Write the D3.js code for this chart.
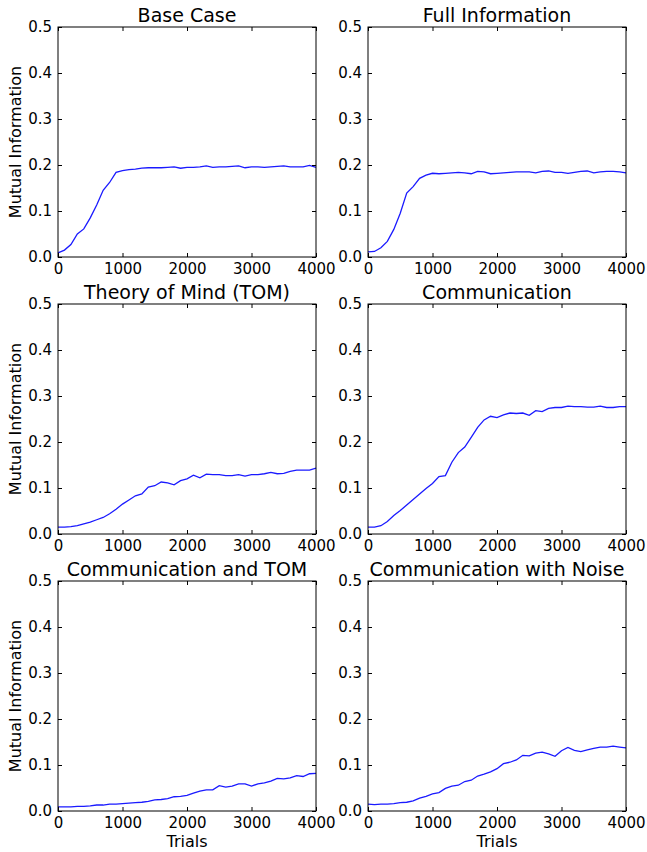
<!DOCTYPE html>
<html lang="en">
<head>
  <meta charset="UTF-8">
  <title>Mutual Information over Trials</title>
  <script src="https://d3js.org/d3.v7.min.js"></script>
  <style>
    body {
      margin: 0;
      background: #fff;
      font-family: "DejaVu Sans", sans-serif;
    }
  </style>
</head>
<body>
  <div id="chart"></div>
  <script>
    // Trials sampled every 100 steps
    const trials = d3.range(0, 4001, 100);

    const titles = [
      "Base Case", "Full Information",
      "Theory of Mind (TOM)", "Communication",
      "Communication and TOM", "Communication with Noise"
    ];

    const baseCase = [0.009,0.015,0.027,0.050,0.061,0.085,0.113,0.145,0.162,0.184,0.188,
      0.190,0.191,0.193,0.194,0.194,0.194,0.195,0.196,0.193,0.195,0.195,0.196,0.198,0.195,
      0.196,0.196,0.197,0.198,0.194,0.196,0.196,0.195,0.196,0.197,0.198,0.196,0.196,0.196,0.199,0.195];

    const fullInfo = [0.011,0.012,0.020,0.034,0.060,0.095,0.139,0.153,0.171,0.178,0.182,
      0.181,0.182,0.183,0.184,0.183,0.181,0.186,0.185,0.181,0.182,0.183,0.184,0.185,0.185,
      0.185,0.183,0.186,0.187,0.184,0.184,0.182,0.184,0.186,0.187,0.183,0.185,0.186,0.186,0.185,0.183];

    const theoryOfMind = [0.015,0.015,0.016,0.018,0.022,0.026,0.031,0.036,0.044,0.054,0.065,
      0.074,0.083,0.087,0.102,0.105,0.113,0.111,0.107,0.116,0.120,0.128,0.122,0.130,0.129,
      0.129,0.127,0.127,0.129,0.126,0.129,0.129,0.131,0.134,0.131,0.132,0.136,0.139,0.139,0.139,0.143];

    const communication = [0.015,0.015,0.018,0.027,0.040,0.051,0.063,0.075,0.087,0.099,0.110,
      0.125,0.127,0.156,0.177,0.189,0.210,0.232,0.248,0.256,0.253,0.259,0.263,0.262,0.263,
      0.258,0.268,0.266,0.273,0.275,0.275,0.278,0.277,0.277,0.276,0.276,0.278,0.275,0.275,0.277,0.277];

    const commAndTom = [0.009,0.009,0.009,0.010,0.010,0.011,0.013,0.013,0.015,0.015,0.016,
      0.017,0.018,0.019,0.021,0.024,0.025,0.027,0.031,0.032,0.034,0.039,0.043,0.046,0.046,
      0.055,0.052,0.054,0.059,0.059,0.054,0.059,0.061,0.065,0.071,0.070,0.072,0.077,0.075,0.081,0.082];

    const commWithNoise = [0.015,0.014,0.015,0.015,0.016,0.018,0.019,0.022,0.028,0.032,0.037,
      0.040,0.049,0.054,0.056,0.064,0.067,0.076,0.080,0.085,0.092,0.103,0.106,0.111,0.121,
      0.120,0.126,0.128,0.124,0.119,0.131,0.138,0.132,0.129,0.133,0.136,0.139,0.139,0.141,0.139,0.137];

    const seriesList = [baseCase, fullInfo, theoryOfMind, communication, commAndTom, commWithNoise];

    const xTicks = [0, 1000, 2000, 3000, 4000];
    const yTicks = [0.0, 0.1, 0.2, 0.3, 0.4, 0.5];

    // layout
    const W = 647, H = 852;
    const pw = 258, ph = 230;
    const colX = [58, 368];
    const rowY = [27, 304, 581];
    const font = "'DejaVu Sans', sans-serif";

    const svg = d3.select("#chart").append("svg")
      .attr("width", W)
      .attr("height", H);

    const x = d3.scaleLinear().domain([0, 4000]).range([0, pw]);
    const y = d3.scaleLinear().domain([0, 0.5]).range([ph, 0]);

    const line = d3.line()
      .x((d, i) => x(trials[i]))
      .y(d => y(d));

    seriesList.forEach((values, k) => {
      const col = k % 2, row = Math.floor(k / 2);
      const g = svg.append("g")
        .attr("transform", `translate(${colX[col]},${rowY[row]})`);

      // data line
      g.append("path")
        .datum(values)
        .attr("fill", "none")
        .attr("stroke", "#1a1aff")
        .attr("stroke-width", 1.3)
        .attr("d", line);

      // axes, ticks pointing inward
      const bottom = g.append("g")
        .attr("transform", `translate(0,${ph})`)
        .call(d3.axisBottom(x).tickValues(xTicks).tickFormat(d3.format("d")).tickSize(-4).tickPadding(5));
      g.append("g")
        .call(d3.axisLeft(y).tickValues(yTicks).tickFormat(d3.format(".1f")).tickSize(-4).tickPadding(6));
      g.append("g")
        .call(d3.axisTop(x).tickValues(xTicks).tickSize(-4).tickFormat(""));
      g.append("g")
        .attr("transform", `translate(${pw},0)`)
        .call(d3.axisRight(y).tickValues(yTicks).tickSize(-4).tickFormat(""));

      g.selectAll(".domain").remove();
      g.selectAll(".tick line").attr("stroke", "#000");
      g.selectAll(".tick text")
        .attr("fill", "#000")
        .style("font-family", font)
        .style("font-size", "15px");
      bottom.selectAll(".tick text").attr("dy", "0.8em");

      // frame
      g.append("rect")
        .attr("width", pw)
        .attr("height", ph)
        .attr("fill", "none")
        .attr("stroke", "#000")
        .attr("stroke-width", 1);

      // title
      g.append("text")
        .attr("x", pw / 2)
        .attr("y", -5)
        .attr("text-anchor", "middle")
        .style("font-family", font)
        .style("font-size", "19px")
        .text(titles[k]);

      if (col === 0) {
        g.append("text")
          .attr("transform", "rotate(-90)")
          .attr("x", -ph / 2)
          .attr("y", -37)
          .attr("text-anchor", "middle")
          .style("font-family", font)
          .style("font-size", "16px")
          .text("Mutual Information");
      }
      if (row === 2) {
        g.append("text")
          .attr("x", pw / 2)
          .attr("y", ph + 36)
          .attr("text-anchor", "middle")
          .style("font-family", font)
          .style("font-size", "16px")
          .text("Trials");
      }
    });
  </script>
</body>
</html>
